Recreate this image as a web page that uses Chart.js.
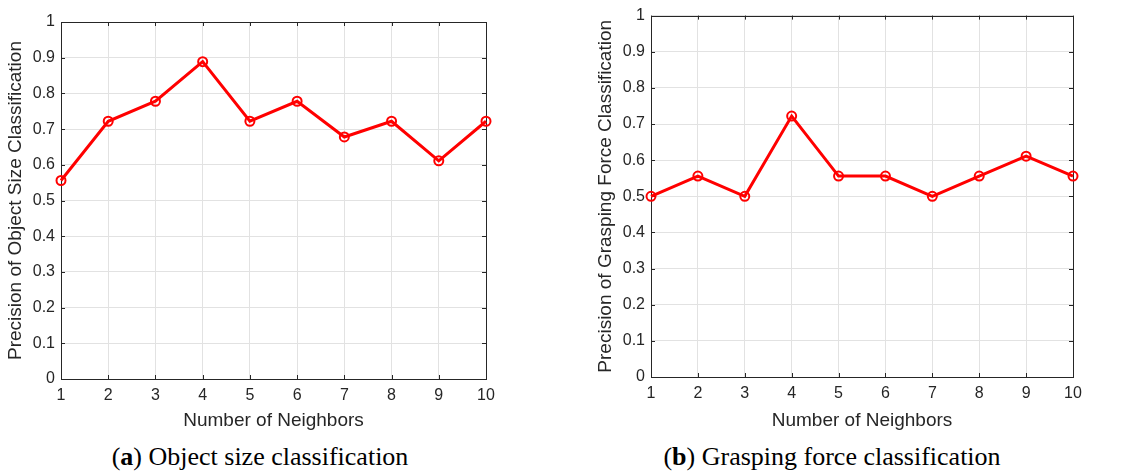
<!DOCTYPE html>
<html>
<head>
<meta charset="utf-8">
<script src="https://cdn.jsdelivr.net/npm/chart.js@4.4.1/dist/chart.umd.min.js"></script>
<style>
  body { margin: 0; background: #fff; width: 1121px; height: 475px; position: relative; overflow: hidden; }
  .wrap { position: absolute; top: 0; height: 440px; }
  .cap { position: absolute; top: 440px; font-family: "Liberation Serif", serif; font-size: 26px; color: #000; line-height: 34px; white-space: nowrap; transform: translateX(-50%); }
</style>
</head>
<body>
<div class="wrap" style="left:0;width:560px"><canvas id="chartA"></canvas></div>
<div class="wrap" style="left:560px;width:561px"><canvas id="chartB"></canvas></div>
<div class="cap" style="left:260px">(<b>a</b>) Object size classification</div>
<div class="cap" style="left:832px">(<b>b</b>) Grasping force classification</div>
<script>
var neighbors = [1, 2, 3, 4, 5, 6, 7, 8, 9, 10];
var sizePrecision = [0.556, 0.722, 0.778, 0.889, 0.722, 0.778, 0.678, 0.722, 0.611, 0.722];
var forcePrecision = [0.5, 0.556, 0.5, 0.722, 0.556, 0.556, 0.5, 0.556, 0.611, 0.556];

var textColor = '#262626';

// plot box with inward ticks, like the matlab axes
var boxPlugin = {
    id: 'box',
    beforeDatasetsDraw: function(chart) {
        var a = chart.chartArea, c = chart.ctx;
        var xs = chart.scales.x, ys = chart.scales.y;
        c.save();
        c.strokeStyle = textColor;
        c.lineWidth = 1;
        c.beginPath();
        xs.ticks.forEach(function(t) {
            var px = Math.round(xs.getPixelForValue(t.value)) + 0.5;
            c.moveTo(px, a.bottom); c.lineTo(px, a.bottom - 4);
            c.moveTo(px, a.top); c.lineTo(px, a.top + 4);
        });
        ys.ticks.forEach(function(t) {
            var py = Math.round(ys.getPixelForValue(t.value)) + 0.5;
            c.moveTo(a.left, py); c.lineTo(a.left + 4, py);
            c.moveTo(a.right, py); c.lineTo(a.right - 4, py);
        });
        c.stroke();
        c.strokeRect(Math.round(a.left) + 0.5, Math.round(a.top) + 0.5, Math.round(a.right - a.left), Math.round(a.bottom - a.top));
        c.restore();
    }
};

function makeChart(id, values, yTitle, box) {
    var H = 440;
    var ctx = document.getElementById(id).getContext('2d');
    return new Chart(ctx, {
        type: 'line',
        data: {
            datasets: [{
                data: neighbors.map(function(n, i) { return { x: n, y: values[i] }; }),
                borderColor: '#ff0000',
                borderWidth: 3,
                pointStyle: 'circle',
                pointRadius: 4.5,
                pointBorderWidth: 2,
                pointBackgroundColor: 'rgba(0,0,0,0)',
                pointBorderColor: '#ff0000',
                tension: 0,
                clip: false
            }]
        },
        options: {
            responsive: true,
            maintainAspectRatio: false,
            animation: false,
            layout: { padding: { left: box.padLeft, top: box.top, right: box.width - box.right, bottom: 4 } },
            plugins: { legend: { display: false }, tooltip: { enabled: false } },
            scales: {
                x: {
                    type: 'linear',
                    min: 1, max: 10,
                    afterFit: function(s) { s.height = H - box.bottom - 4; },
                    border: { display: false },
                    grid: { color: '#e2e2e2', drawTicks: false },
                    ticks: { stepSize: 1, padding: 7, color: textColor, font: { family: 'Liberation Sans', size: 16 }, maxRotation: 0 },
                    title: { display: true, text: 'Number of Neighbors', color: textColor, font: { family: 'Liberation Sans', size: 19 }, padding: { top: 4, bottom: 4 } }
                },
                y: {
                    min: 0, max: 1,
                    afterFit: function(s) { s.width = box.left - box.padLeft; },
                    border: { display: false },
                    grid: { color: '#e2e2e2', drawTicks: false },
                    ticks: {
                        stepSize: 0.1, padding: 6, color: textColor,
                        font: { family: 'Liberation Sans', size: 16 },
                        callback: function(v) { return String(+v.toFixed(1)); }
                    },
                    title: { display: true, text: yTitle, color: textColor, font: { family: 'Liberation Sans', size: 19 }, padding: { top: 4, bottom: 4 } }
                }
            }
        },
        plugins: [boxPlugin]
    });
}

makeChart('chartA', sizePrecision, 'Precision of Object Size Classification',
    { padLeft: 0, left: 61, top: 22, right: 486, bottom: 379, width: 560 });
makeChart('chartB', forcePrecision, 'Precision of Grasping Force Classification',
    { padLeft: 30, left: 91, top: 15, right: 513, bottom: 377, width: 561 });
</script>
</body>
</html>
